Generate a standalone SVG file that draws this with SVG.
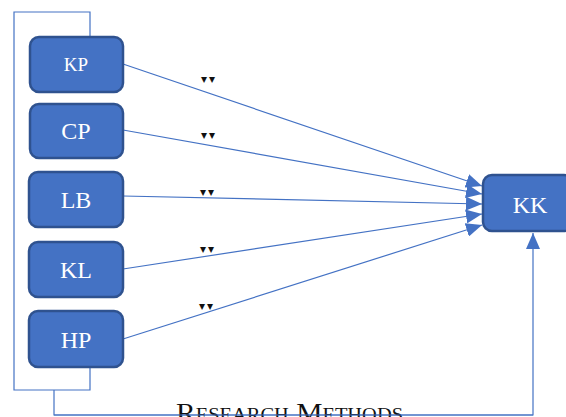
<svg xmlns="http://www.w3.org/2000/svg" width="566" height="417" viewBox="0 0 566 417">
<defs>
<style>
.box{fill:#4472C4;stroke:#2F528F;stroke-width:2.5}
.lbl{fill:#ffffff;font-family:"Liberation Serif","Times New Roman",serif;text-anchor:middle}
.ln{fill:none;stroke:#4472C4;stroke-width:1.2}
.mk{fill:#111;font-family:"DejaVu Sans",sans-serif;font-size:12px;letter-spacing:2px}
</style>
<marker id="ah" viewBox="0 0 10 10" refX="10" refY="5" markerWidth="16" markerHeight="14" markerUnits="userSpaceOnUse" orient="auto" preserveAspectRatio="none">
<path d="M0,0 L10,5 L0,10 Z" fill="#4472C4"/>
</marker>
</defs>
<rect width="566" height="417" fill="#ffffff"/>
<g id="connectors">
<polyline class="ln" points="90,37 90,12 14,12 14,390 90,390 90,367"/>
<polyline class="ln" points="54,390 54,415 533,415 533,233" marker-end="url(#ah)"/>
<line class="ln" x1="123" y1="64" x2="482" y2="186" marker-end="url(#ah)"/>
<line class="ln" x1="123" y1="130" x2="482" y2="194" marker-end="url(#ah)"/>
<line class="ln" x1="123" y1="196" x2="482" y2="204" marker-end="url(#ah)"/>
<line class="ln" x1="123" y1="269" x2="482" y2="214" marker-end="url(#ah)"/>
<line class="ln" x1="123" y1="339" x2="482" y2="225" marker-end="url(#ah)"/>
<text class="mk" x="201" y="83">▾▾</text>
<text class="mk" x="201" y="139">▾▾</text>
<text class="mk" x="200" y="196">▾▾</text>
<text class="mk" x="200" y="253">▾▾</text>
<text class="mk" x="199" y="310">▾▾</text>
</g>
<g id="KP"><rect class="box" x="30" y="37" width="93" height="55" rx="9"/><text class="lbl" x="76" y="71" font-size="19">KP</text></g>
<g id="CP"><rect class="box" x="30" y="104" width="93" height="54" rx="9"/><text class="lbl" x="76" y="139" font-size="24">CP</text></g>
<g id="LB"><rect class="box" x="29" y="172" width="94" height="55" rx="9"/><text class="lbl" x="76" y="208" font-size="24">LB</text></g>
<g id="KL"><rect class="box" x="29" y="242" width="94" height="55" rx="9"/><text class="lbl" x="76" y="278" font-size="24">KL</text></g>
<g id="HP"><rect class="box" x="29" y="311" width="94" height="56" rx="9"/><text class="lbl" x="76" y="348" font-size="24">HP</text></g>
<g id="KK"><rect class="box" x="483" y="175" width="90" height="56" rx="9"/><text class="lbl" x="530" y="213" font-size="24">KK</text></g>
<text x="176" y="421" font-family="'Liberation Serif','Times New Roman',serif" font-size="26" font-variant="small-caps" textLength="227" lengthAdjust="spacingAndGlyphs" fill="#111">Research Methods</text>
<line class="ln" x1="54" y1="415" x2="533" y2="415"/>
</svg>
